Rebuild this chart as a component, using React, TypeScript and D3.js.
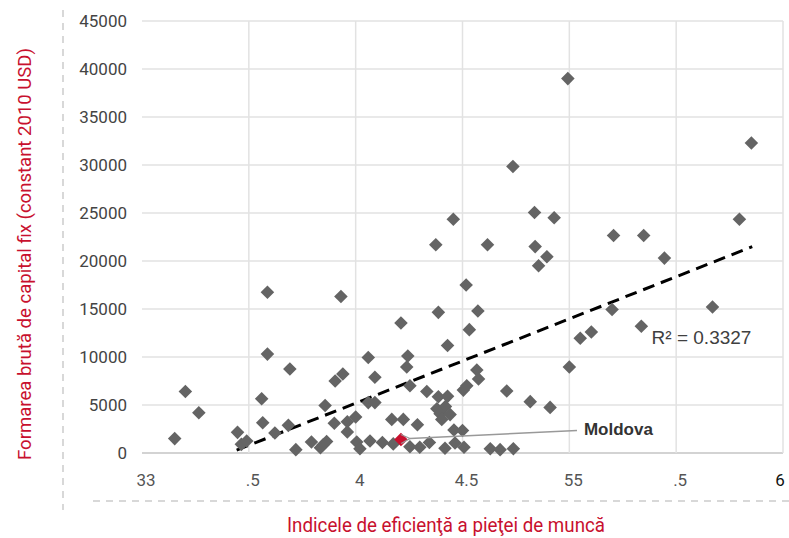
import React from 'react';
import * as d3 from 'd3';

// labour market efficiency index (x) and gross fixed capital formation (y), one entry per country
const efficiencyIndex = [
  3.153, 3.203, 3.266, 3.447, 3.465, 3.49, 3.56, 3.565, 3.587, 3.587,
  3.622, 3.685, 3.692, 3.72, 3.793, 3.835, 3.848, 3.864, 3.857, 3.9,
  3.904, 3.94, 3.931, 3.961, 3.961, 4.0, 4.005,
  4.02, 4.059, 4.059, 4.09, 4.09, 4.067, 4.125, 4.176, 4.169, 4.212,
  4.223, 4.239, 4.244, 4.254, 4.254, 4.3, 4.289, 4.333, 4.345, 4.375,
  4.38, 4.387, 4.387, 4.395, 4.403, 4.418, 4.42, 4.43, 4.43, 4.442,
  4.457, 4.46, 4.465, 4.5, 4.507, 4.504, 4.517, 4.52, 4.532, 4.567,
  4.575, 4.572, 4.617, 4.63, 4.676, 4.707, 4.738, 4.736, 4.817, 4.837,
  4.84, 4.856, 4.895, 4.91, 4.929, 4.993, 5.0, 5.051, 5.103, 5.2,
  5.207, 5.337, 5.348, 5.445, 5.67, 5.796, 5.852,
];
const capitalFormation = [
  1500, 6400, 4200, 2150, 900, 1250, 5650, 3150, 16750, 10300,
  2080, 2880, 8750, 350, 1150, 550, 850, 1200, 4950, 3100,
  7500, 8230, 16300, 3250, 2200, 3750, 1150,
  450, 9950, 5250, 5250, 7900, 1250, 1100, 950, 3500, 13550,
  3500, 8950, 10100, 7000, 650, 600, 2950, 6400, 1100, 21700,
  4600, 14650, 5850, 4100, 3500, 500, 4850, 5900, 11200, 4000,
  24350, 2400, 1050, 2350, 600, 6550, 17500, 7000, 12850, 8650,
  7700, 14800, 21700, 450, 350, 6450, 450, 29850, 5350, 25050,
  21500, 19500, 20450, 4750, 24500, 39000, 8950, 11950, 12600, 14950,
  22650, 13200, 22650, 20300, 15200, 24350, 32300,
];

const moldova = { name: 'Moldova', x: 4.212, y: 1400 };

// linear trend line end points
const trendX = [3.443, 5.856];
const trendY = [300, 21490];
const rSquared = 'R² = 0.3327';

const xTicks = [3, 3.5, 4, 4.5, 5, 5.5, 6];
const xTickLabels = ['33', '.5', '4', '4.5', '55', '.5', '6'];
const yTicks = [0, 5000, 10000, 15000, 20000, 25000, 30000, 35000, 40000, 45000];

const yTitle = 'Formarea brută de capital fix (constant 2010 USD)';
const xTitle = 'Indicele de eficienţă a pieţei de muncă';

const W = 789, H = 538;
const margin = { top: 21, right: 6, bottom: 85, left: 142 };
const red = '#c8102e';

export default function App() {
  const x = d3.scaleLinear().domain([3, 6]).range([margin.left, W - margin.right]);
  const y = d3.scaleLinear().domain([0, 45000]).range([H - margin.bottom, margin.top]);
  const diamond = d3.symbol(d3.symbolSquare, 92)()!;
  const points = efficiencyIndex.map((v, i) => [v, capitalFormation[i]]);
  const trend = d3.line<number>().x((d) => x(trendX[d])).y((d) => y(trendY[d]));

  const mx = x(moldova.x), my = y(moldova.y);
  const font = 'Roboto, "Noto Sans", sans-serif';

  return (
    <svg width={W} height={H} style={{ position: 'absolute', left: 0, top: 0, background: '#fff' }}>
      <defs>
        <marker id="arr" viewBox="-1 -6 12 12" refX={0} refY={0} markerWidth={12} markerHeight={12}
          markerUnits="userSpaceOnUse" orient="auto-start-reverse">
          <path d="M9,-4.5L0,0L9,4.5" fill="none" stroke="#999" strokeWidth={1.2} />
        </marker>
      </defs>

      {/* decorative dashed frame */}
      <line x1={63} x2={63} y1={10} y2={510} stroke="#ccc" strokeWidth={1.5} strokeDasharray="7,6" />
      <line x1={93} x2={W} y1={501} y2={501} stroke="#ccc" strokeWidth={1.5} strokeDasharray="7,6" />

      {/* grid */}
      <g>
        {yTicks.map((t) => (
          <line key={'gy' + t} x1={margin.left} x2={W - margin.right} y1={y(t)} y2={y(t)}
            stroke={t === 0 ? '#c4c4c4' : '#e2e2e2'} strokeWidth={1.5} />
        ))}
        {xTicks.slice(1).map((t) => (
          <line key={'gx' + t} x1={x(t)} x2={x(t)} y1={margin.top} y2={y(0)} stroke="#e2e2e2" strokeWidth={1.5} />
        ))}
      </g>

      {/* y tick labels */}
      <g fontFamily={font} fontSize={17} fill="#444" textAnchor="end">
        {yTicks.map((t) => (
          <text key={'ty' + t} x={127} y={y(t)} dy="0.35em">{t}</text>
        ))}
      </g>

      {/* x tick labels */}
      <g fontFamily={font} fontSize={17} textAnchor="middle">
        {xTicks.map((t, i) => (
          <text key={'tx' + t} x={i === xTicks.length - 1 ? x(t) - 3 : x(t) + 4} y={486}
            fill={i === xTicks.length - 1 ? '#111' : '#555'}>{xTickLabels[i]}</text>
        ))}
      </g>

      {/* trend line */}
      <path d={trend([0, 1])!} stroke="#000" strokeWidth={3} strokeDasharray="12,7" fill="none" />

      {/* points */}
      <g fill="#646464">
        {points.map((d, i) => (
          <path key={i} d={diamond} transform={`translate(${x(d[0])},${y(d[1])}) rotate(45)`} />
        ))}
      </g>

      {/* Moldova */}
      <path d={diamond} fill={red} transform={`translate(${mx},${my}) rotate(45)`} />
      <line x1={mx + 176} y1={my - 9} x2={mx + 9} y2={my - 1} stroke="#999" strokeWidth={1.5} markerEnd="url(#arr)" />
      <text x={mx + 183} y={my - 5} fontFamily='"Liberation Sans", Arial, sans-serif' fontWeight="bold" fontSize={17}
        fill="#333">{moldova.name}</text>

      <text x={x(5.385)} y={y(11350)} fontFamily='"Liberation Sans", Arial, sans-serif' fontSize={19} fill="#404040">
        {rSquared}
      </text>

      {/* axis titles */}
      <text transform={`translate(31,${(48 + 460) / 2}) rotate(-90)`} textAnchor="middle" fontFamily={font}
        fontSize={19} fill={red} textLength={412} lengthAdjust="spacingAndGlyphs">{yTitle}</text>
      <text x={446} y={532} textAnchor="middle" fontFamily={font} fontSize={20} fill={red}
        textLength={318} lengthAdjust="spacingAndGlyphs">{xTitle}</text>
    </svg>
  );
}
